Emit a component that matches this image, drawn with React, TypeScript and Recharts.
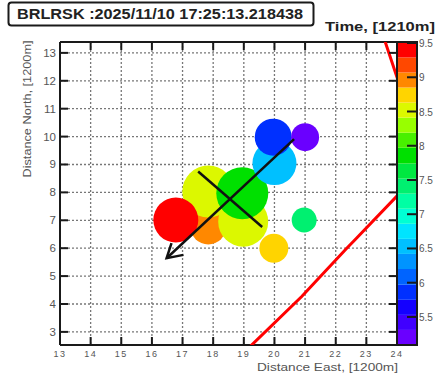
import React from 'react';
import {
  ScatterChart, Scatter, XAxis, YAxis, ZAxis, CartesianGrid,
  ComposedChart, ReferenceArea,
} from 'recharts';

// ---- data ----
const titleText = 'BRLRSK :2025/11/10 17:25:13.218438';
const timeTitle = 'Time, [1210m]';
const xTitle = 'Distance East, [1200m]';
const yTitle = 'Distance North, [1200m]';

const xTicks = [13, 14, 15, 16, 17, 18, 19, 20, 21, 22, 23, 24];
const yTicks = [3, 4, 5, 6, 7, 8, 9, 10, 11, 12, 13];

// storm cells (drawn in this order)
const cellEast = [20.97, 19.98, 17.84, 18.98, 17.84, 18.95, 20.0, 19.96, 21.0, 16.78];
const cellNorth = [7.01, 6.0, 6.78, 6.95, 8.03, 7.97, 9.05, 9.98, 9.98, 7.01];
const cellTime = [7.4, 8.7, 8.95, 8.5, 8.5, 7.85, 6.5, 5.8, 5.2, 9.4];
const cellSize = [1.56, 2.1, 3.24, 6.25, 6.76, 6.76, 4.84, 3.42, 1.96, 5.06];

// motion arrow
const arrowEast = [20.64, 16.48];
const arrowNorth = [9.91, 5.64];
const arrowHeadEast = [16.64, 16.48, 17.03];
const arrowHeadNorth = [6.18, 5.64, 5.76];
// cross line
const crossEast = [17.51, 19.6];
const crossNorth = [8.75, 6.76];
// red boundary lines
const redAEast = [19.2, 20.89, 21.3, 22.36, 22.63, 24.2];
const redANorth = [2.47, 4.27, 4.75, 6.0, 6.3, 8.1];
const redBEast = [23.4, 24.1];
const redBNorth = [14.1, 11.8];

// colour bar
const cbEdges = [5.09, 5.31, 5.53, 5.75, 5.97, 6.2, 6.42, 6.64, 6.86, 7.08, 7.3,
  7.52, 7.74, 7.97, 8.19, 8.41, 8.63, 8.85, 9.07, 9.29, 9.515];
const cbColors = ['#6a00ff', '#4000ff', '#1400ff', '#0030ff', '#0064ff', '#0094ff',
  '#00c0ff', '#00e4ff', '#00ffd4', '#00ffa4', '#00f070', '#00e840', '#00e000',
  '#48f000', '#98ff00', '#dcf800', '#ffd400', '#ff8800', '#ff4800', '#ff0000'];
const cbTicks = [5.5, 6, 6.5, 7, 7.5, 8, 8.5, 9, 9.5];

const colorFor = (t: number) => {
  for (let i = 0; i < cbColors.length; i++) {
    if (t >= cbEdges[i] && t < cbEdges[i + 1]) return cbColors[i];
  }
  return t < cbEdges[0] ? cbColors[0] : cbColors[cbColors.length - 1];
};

const cells = cellEast.map((x, i) => ({ x, y: cellNorth[i], t: cellTime[i], z: cellSize[i] }));
const toPts = (xs: number[], ys: number[]) => xs.map((x, i) => ({ x, y: ys[i] }));
const arrowPts = toPts(arrowEast, arrowNorth);
const headPts = toPts(arrowHeadEast, arrowHeadNorth);
const crossPts = toPts(crossEast, crossNorth);
const redA = toPts(redAEast, redANorth);
const redB = toPts(redBEast, redBNorth);
const cbBands = cbColors.map((c, i) => ({ lo: cbEdges[i], hi: cbEdges[i + 1], c }));

const FONT = '"Liberation Sans", Arial, sans-serif';
const AX = '#1a1a1a';
const LBL = '#555';

const Nothing = () => <g />;
const Bubble = (p: any) => (
  <circle cx={p.cx} cy={p.cy} r={p.width / 2} fill={colorFor(p.payload.t)} />
);

const BottomTick = (p: any) => (
  <g>
    <line x1={p.x} x2={p.x} y1={p.y} y2={p.y - 8} stroke={AX} strokeWidth={2} />
    <text x={p.x} y={p.y + 12} textAnchor="middle" fontSize={9} fill={LBL} fontFamily={FONT}
      letterSpacing={1.5}>{p.payload.value}</text>
  </g>
);
const TopTick = (p: any) => (
  <line x1={p.x} x2={p.x} y1={p.y} y2={p.y + 8} stroke={AX} strokeWidth={2} />
);
const LeftTick = (p: any) => (
  <g>
    <line x1={p.x} x2={p.x + 8} y1={p.y} y2={p.y} stroke={AX} strokeWidth={2} />
    <text x={p.x - 4} y={p.y + 4} textAnchor="end" fontSize={11.5} fill={LBL} fontFamily={FONT}>
      {p.payload.value}
    </text>
  </g>
);
const RightTick = (p: any) => (
  <line x1={p.x} x2={p.x - 8} y1={p.y} y2={p.y} stroke={AX} strokeWidth={2} />
);
const CbTick = (p: any) => (
  <g>
    <line x1={p.x} x2={p.x - 10} y1={p.y} y2={p.y} stroke={AX} strokeWidth={2} />
    <text x={p.x + 2} y={p.y + 4} textAnchor="start" fontSize={10} fill={LBL} fontFamily={FONT}>
      {p.payload.value}
    </text>
  </g>
);

export default function App() {
  return (
    <div style={{ position: 'absolute', left: 0, top: 0, width: 442, height: 379, background: '#fff', overflow: 'hidden' }}>
      <div style={{ position: 'absolute', left: 0, top: 0 }}>
        <ScatterChart width={442} height={379} margin={{ top: 32, right: 35, bottom: 4, left: 20 }}>
          <CartesianGrid stroke="#777" strokeDasharray="2 2" strokeWidth={1.3} />
          <XAxis type="number" dataKey="x" domain={[13, 24]} ticks={xTicks} allowDataOverflow
            height={30} tickSize={0} tickMargin={0} tick={<BottomTick />}
            axisLine={{ stroke: AX, strokeWidth: 2 }} tickLine={false} interval={0} />
          <XAxis xAxisId="top" orientation="top" type="number" dataKey="x" domain={[13, 24]} ticks={xTicks}
            allowDataOverflow height={10} tickSize={0} tickMargin={0} tick={<TopTick />}
            axisLine={{ stroke: AX, strokeWidth: 2 }} tickLine={false} interval={0} />
          <YAxis type="number" dataKey="y" domain={[2.53, 13.39]} ticks={yTicks} allowDataOverflow
            width={40} tickSize={0} tickMargin={0} tick={<LeftTick />}
            axisLine={{ stroke: AX, strokeWidth: 2 }} tickLine={false} interval={0} />
          <YAxis yAxisId="right" orientation="right" type="number" dataKey="y" domain={[2.53, 13.39]}
            ticks={yTicks} allowDataOverflow width={10} tickSize={0} tickMargin={0} tick={<RightTick />}
            axisLine={{ stroke: AX, strokeWidth: 2 }} tickLine={false} interval={0} />
          <ZAxis type="number" dataKey="z" domain={[0, 10]} range={[0, 3141.6]} />
          <Scatter data={cells} shape={<Bubble />} isAnimationActive={false} />
          <Scatter data={redA} line={{ stroke: '#ff0000', strokeWidth: 3 }} fill="#ff0000"
            shape={<Nothing />} isAnimationActive={false} />
          <Scatter data={redB} line={{ stroke: '#ff0000', strokeWidth: 3 }} fill="#ff0000"
            shape={<Nothing />} isAnimationActive={false} />
          <Scatter data={arrowPts} line={{ stroke: '#111', strokeWidth: 2.5 }} fill="#111"
            shape={<Nothing />} isAnimationActive={false} />
          <Scatter data={headPts} line={{ stroke: '#111', strokeWidth: 2.5 }} fill="#111"
            shape={<Nothing />} isAnimationActive={false} />
          <Scatter data={crossPts} line={{ stroke: '#111', strokeWidth: 2.5 }} fill="#111"
            shape={<Nothing />} isAnimationActive={false} />
        </ScatterChart>
      </div>
      <div style={{ position: 'absolute', left: 0, top: 0 }}>
        <ComposedChart width={442} height={379} data={[{ x: 0.5, y: 7 }]}
          margin={{ top: 42, right: 0, bottom: 34, left: 397 }}>
          <XAxis type="number" dataKey="x" domain={[0, 1]} hide />
          <YAxis orientation="right" type="number" domain={[5.09, 9.515]} ticks={cbTicks}
            allowDataOverflow width={25} tickSize={0} tickMargin={0} tick={<CbTick />}
            axisLine={false} tickLine={false} interval={0} />
          {cbBands.map((b, i) => (
            <ReferenceArea key={i} x1={0} x2={1} y1={b.lo} y2={b.hi} fill={b.c} fillOpacity={1}
              stroke="none" ifOverflow="visible" />
          ))}
          <ReferenceArea x1={0} x2={1} y1={5.09} y2={9.515} fill="none" stroke={AX} strokeWidth={2}
            ifOverflow="visible" />
        </ComposedChart>
      </div>
      <svg width={442} height={379} style={{ position: 'absolute', left: 0, top: 0, pointerEvents: 'none' }}>
        <rect x={8.5} y={2.5} width={305} height={23} rx={3} fill="#fff" stroke={AX} strokeWidth={2} />
        <text x={17} y={19} fontSize={14} fontWeight="bold" fontFamily={FONT} fill="#222"
          textLength={286} lengthAdjust="spacingAndGlyphs">{titleText}</text>
        <text x={325} y={31} fontSize={13} fontWeight="bold" fontFamily={FONT} fill="#222"
          textLength={110} lengthAdjust="spacingAndGlyphs">{timeTitle}</text>
        <text x={398} y={371} fontSize={11} fontFamily={FONT} fill={LBL} textAnchor="end"
          textLength={141} lengthAdjust="spacingAndGlyphs">{xTitle}</text>
        <text x={0} y={0} fontSize={10.5} fontFamily={FONT} fill={LBL} textAnchor="middle"
          transform="translate(31,109) rotate(-90)" textLength={137} lengthAdjust="spacingAndGlyphs">{yTitle}</text>
      </svg>
    </div>
  );
}
